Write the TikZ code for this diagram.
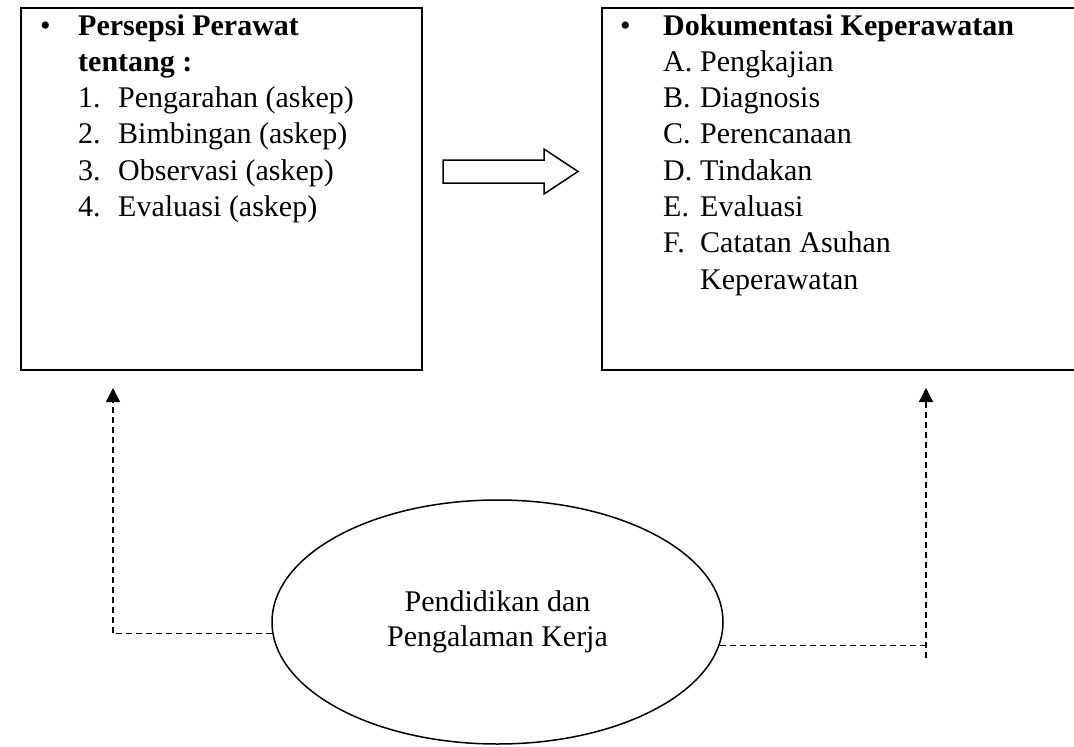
\documentclass[tikz,border=0pt]{standalone}
\usepackage{fontspec}
\setmainfont{Liberation Serif}
\usepackage{tikz}
\usetikzlibrary{arrows.meta, positioning, shapes.geometric, calc}
\tikzset{
  panel/.style={rectangle, draw, line width=1.5pt, inner sep=0pt,
                minimum height=362pt, anchor=north west},
  listtxt/.style={inner sep=0pt, anchor=base west, align=flush left,
                  font=\fontsize{30}{36.3}\selectfont},
  oval/.style={ellipse, draw, line width=1.5pt, inner sep=0pt,
               minimum width=451pt, minimum height=244pt, align=center,
               font=\fontsize{30}{35}\selectfont},
  dashln/.style={line width=1.3pt, dash pattern=on 6pt off 4pt},
  dasharr/.style={dashln, -{Triangle[length=14pt, width=14pt]}},
  bigarr/.style={draw, line width=1.5pt, line join=miter},
}
\newcommand{\bul}[1]{\makebox[#1][l]{\textbullet}}
\newcommand{\itm}[3]{\hspace*{#1}\makebox[#2][l]{#3}}

\begin{document}
\begin{tikzpicture}[x=1pt, y=-1pt]
  \useasboundingbox (0,0) rectangle (1074,747);
  \clip (0,0) rectangle (1074,747);

  % the two boxes
  \node[panel, minimum width=401pt] (persepsi) at (20,7) {};
  \node[panel, minimum width=480pt] (dokumen)  at (601,7) {};

  \node[listtxt, text width=380pt] (persepsiTxt) at (40,35) {%
    \bul{38pt}\textbf{Persepsi Perawat}\\
    \hspace*{38pt}\textbf{tentang :}\\
    \itm{38pt}{40pt}{1.}Pengarahan (askep)\\
    \itm{38pt}{40pt}{2.}Bimbingan (askep)\\
    \itm{38pt}{40pt}{3.}Observasi (askep)\\
    \itm{38pt}{40pt}{4.}Evaluasi (askep)};

  \node[listtxt, text width=440pt] (dokumenTxt) at (620,35) {%
    \bul{43pt}\textbf{Dokumentasi Keperawatan}\\
    \itm{43pt}{37pt}{A.}Pengkajian\\
    \itm{43pt}{37pt}{B.}Diagnosis\\
    \itm{43pt}{37pt}{C.}Perencanaan\\
    \itm{43pt}{37pt}{D.}Tindakan\\
    \itm{43pt}{37pt}{E.}Evaluasi\\
    \itm{43pt}{37pt}{F.}Catatan Asuhan\\
    \hspace*{80pt}Keperawatan};

  % block arrow between the boxes
  \draw[bigarr] (443,160) -- (544,160) -- (544,149) -- (578,171.5)
    -- (544,194) -- (544,183) -- (443,183) -- cycle;

  % education / experience
  \node[oval] (edu) at (497.5,622) {Pendidikan dan\\Pengalaman Kerja};

  \coordinate (lTip)  at (113,388);
  \coordinate (rTip)  at (926,388);
  \coordinate (rFoot) at (926,658);

  \draw[dasharr] (edu.183.3) -| (lTip);
  \draw[dashln]  (edu.-6.8) -- (rFoot |- edu.-6.8);
  \draw[dasharr] (rFoot) -- (rTip);
\end{tikzpicture}
\end{document}
